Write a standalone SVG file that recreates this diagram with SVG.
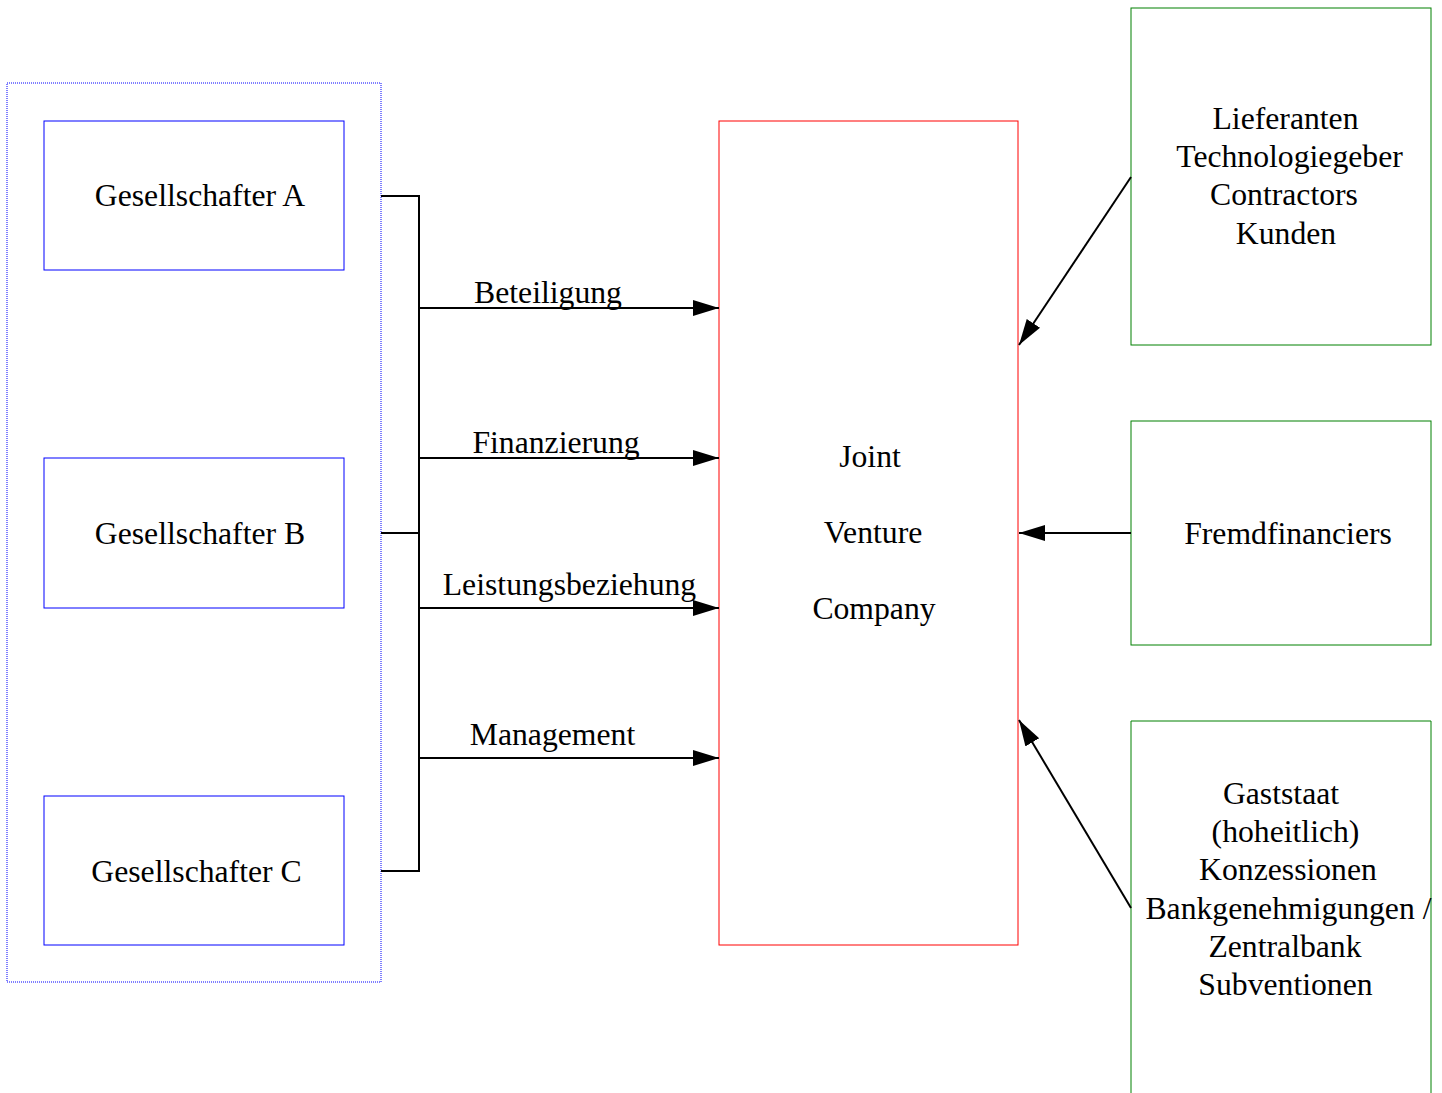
<svg xmlns="http://www.w3.org/2000/svg" width="1442" height="1093" viewBox="0 0 1442 1093">
<style>
text{font-family:"Liberation Serif","Times New Roman",serif;font-size:31.7px;fill:#000;text-anchor:middle}
.blue{fill:none;stroke:#0000ff;stroke-width:1}
.red{fill:none;stroke:#ff0000;stroke-width:1}
.green{fill:none;stroke:#008000;stroke-width:1}
.ln{fill:none;stroke:#000;stroke-width:2}
.arr{fill:none;stroke:#000;stroke-width:2;marker-end:url(#ah)}
</style>
<defs>
<marker id="ah" markerUnits="userSpaceOnUse" markerWidth="28" markerHeight="18" refX="26" refY="8" orient="auto">
<path d="M0,0 L26,8 L0,16 Z" fill="#000"/>
</marker>
</defs>
<rect width="1442" height="1093" fill="#fff"/>
<g id="group-gesellschafter">
<rect x="7" y="83" width="374" height="899" class="blue" stroke-dasharray="1 1"/>
</g>
<g id="node-a">
<rect x="44" y="121" width="300" height="149" class="blue"/>
<text x="200" y="206">Gesellschafter A</text>
</g>
<g id="node-b">
<rect x="44" y="458" width="300" height="150" class="blue"/>
<text x="200" y="544">Gesellschafter B</text>
</g>
<g id="node-c">
<rect x="44" y="796" width="300" height="149" class="blue"/>
<text x="196.5" y="882">Gesellschafter C</text>
</g>
<g id="node-jv">
<rect x="719" y="121" width="299" height="824" class="red"/>
<text x="870" y="467">Joint</text>
<text x="873" y="543">Venture</text>
<text x="874" y="619">Company</text>
</g>
<g id="node-lieferanten">
<rect x="1131" y="8" width="300" height="337" class="green"/>
<text x="1285.5" y="129">Lieferanten</text>
<text x="1289.5" y="167">Technologiegeber</text>
<text x="1284" y="205">Contractors</text>
<text x="1286" y="244">Kunden</text>
</g>
<g id="node-fremd">
<rect x="1131" y="421" width="300" height="224" class="green"/>
<text x="1288" y="544">Fremdfinanciers</text>
</g>
<g id="node-gaststaat">
<path d="M1131,1093 V721 H1431 V1093" class="green"/>
<text x="1281" y="804">Gaststaat</text>
<text x="1285.5" y="842">(hoheitlich)</text>
<text x="1288" y="880">Konzessionen</text>
<text x="1288.5" y="919">Bankgenehmigungen /</text>
<text x="1285" y="957">Zentralbank</text>
<text x="1285.5" y="995">Subventionen</text>
</g>
<g id="connectors">
<path d="M381,196 H419 V871 H381 M381,533 H419" class="ln"/>
<path d="M419,308 H719" class="arr"/>
<path d="M419,458 H719" class="arr"/>
<path d="M419,608 H719" class="arr"/>
<path d="M419,758 H719" class="arr"/>
<path d="M1131,177 L1019,345" class="arr"/>
<path d="M1131,533 H1019" class="arr"/>
<path d="M1131,908 L1019,720" class="arr"/>
<text x="548" y="303">Beteiligung</text>
<text x="556" y="453">Finanzierung</text>
<text x="569.5" y="595">Leistungsbeziehung</text>
<text x="552.5" y="745">Management</text>
</g>
</svg>
